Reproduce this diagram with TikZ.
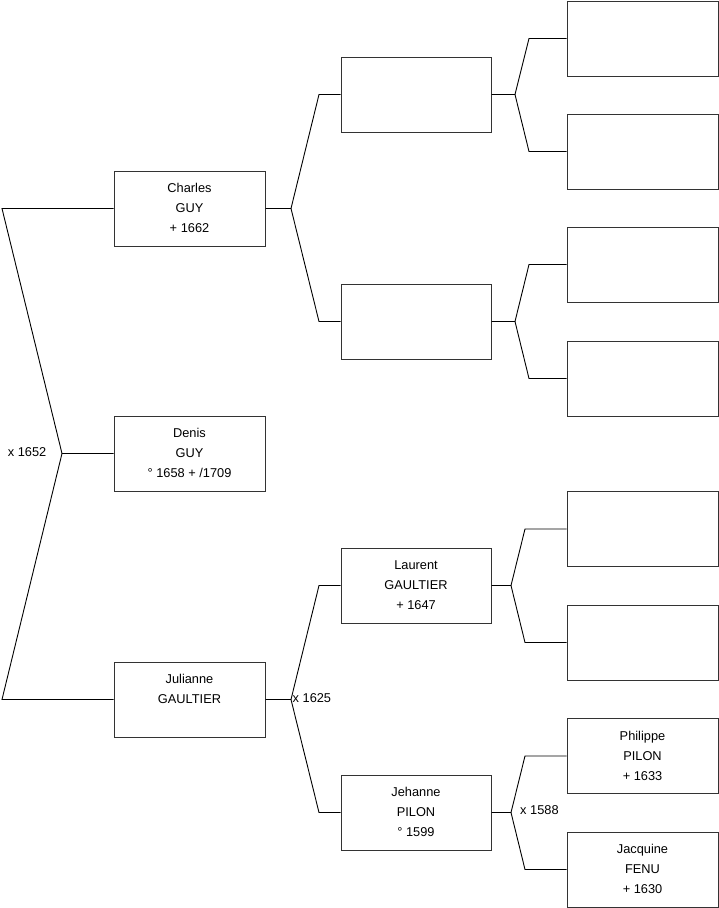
\documentclass[tikz,border=0pt]{standalone}
\usepackage{fontspec}
\setmainfont{Liberation Sans}
\newcommand\ptext[3]{\raisebox{3.5pt}{\begin{tabular}{@{}c@{}}#1\\#2\\#3\end{tabular}}}
\begin{document}
\begin{tikzpicture}[x=1pt,y=-1pt,
  person/.style={draw=black!80,line width=1pt,fill=white,minimum width=151pt,minimum height=75pt,
    align=center,inner sep=0pt,font=\fontsize{12.8}{20}\selectfont},
  link/.style={draw=black,line width=0.9pt},
  marriage/.style={font=\fontsize{12.8}{14}\selectfont,inner sep=0pt}]
\useasboundingbox (0,0) rectangle (719,908);
% level 1
\node[person] (charles) at (189.5,208.5) {\ptext{Charles}{GUY}{+ 1662}};
\node[person] (denis) at (189.5,453.5) {\ptext{Denis}{GUY}{° 1658 + /1709}};
\node[person] (julianne) at (189.5,699.5) {\ptext{Julianne}{GAULTIER}{\mbox{}}};
% level 2
\node[person,minimum width=150pt] (pa) at (416,94.5) {};
\node[person,minimum width=150pt] (pb) at (416,321.5) {};
\node[person,minimum width=150pt] (laurent) at (416,585.5) {\ptext{Laurent}{GAULTIER}{+ 1647}};
\node[person,minimum width=150pt] (jehanne) at (416,812.5) {\ptext{Jehanne}{PILON}{° 1599}};
% level 3
\node[person] (g1) at (642.5,38.5) {};
\node[person] (g2) at (642.5,151.5) {};
\node[person] (g3) at (642.5,264.5) {};
\node[person] (g4) at (642.5,378.5) {};
\node[person] (g5) at (642.5,529) {};
\node[person] (g6) at (642.5,642.5) {};
\node[person] (philippe) at (642.5,756) {\ptext{Philippe}{PILON}{+ 1633}};
\node[person] (jacquine) at (642.5,869.5) {\ptext{Jacquine}{FENU}{+ 1630}};
% forks
\coordinate (fD) at (62,453.5);
\coordinate (fDa) at (2,208.5);
\coordinate (fDb) at (2,699.5);
\coordinate (fC) at (291,208.5);
\coordinate (fCa) at (319,94.5);
\coordinate (fCb) at (319,321.5);
\coordinate (fJ) at (291,699.5);
\coordinate (fJa) at (319,585.5);
\coordinate (fJb) at (319,812.5);
\coordinate (fA) at (515,94.5);
\coordinate (fAa) at (529,38.5);
\coordinate (fAb) at (529,151.5);
\coordinate (fB) at (515,321.5);
\coordinate (fBa) at (529,264.5);
\coordinate (fBb) at (529,378.5);
\coordinate (fL) at (511,585.5);
\coordinate (fLa) at (525,529);
\coordinate (fLb) at (525,642.5);
\coordinate (fH) at (511,812.5);
\coordinate (fHa) at (525,756);
\coordinate (fHb) at (525,869.5);
% connectors
\draw[link] (denis.west) -- (fD) -- (fDa) -- (charles.west);
\draw[link] (fD) -- (fDb) -- (julianne.west);
\draw[link] (charles.east) -- (fC) -- (fCa) -- (pa.west);
\draw[link] (fC) -- (fCb) -- (pb.west);
\draw[link] (julianne.east) -- (fJ) -- (fJa) -- (laurent.west);
\draw[link] (fJ) -- (fJb) -- (jehanne.west);
\draw[link] (pa.east) -- (fA) -- (fAa) -- (g1.west);
\draw[link] (fA) -- (fAb) -- (g2.west);
\draw[link] (pb.east) -- (fB) -- (fBa) -- (g3.west);
\draw[link] (fB) -- (fBb) -- (g4.west);
\draw[link] (laurent.east) -- (fL) -- (fLa) -- (g5.west);
\draw[link] (fL) -- (fLb) -- (g6.west);
\draw[link] (jehanne.east) -- (fH) -- (fHa) -- (philippe.west);
\draw[link] (fH) -- (fHb) -- (jacquine.west);
% marriage labels
\node[marriage,anchor=east] (m1652) at (46.5,452.5) {x 1652};
\node[marriage,anchor=west] (m1625) at (292.5,698) {x 1625};
\node[marriage,anchor=west] (m1588) at (520,810) {x 1588};
\end{tikzpicture}
\end{document}
